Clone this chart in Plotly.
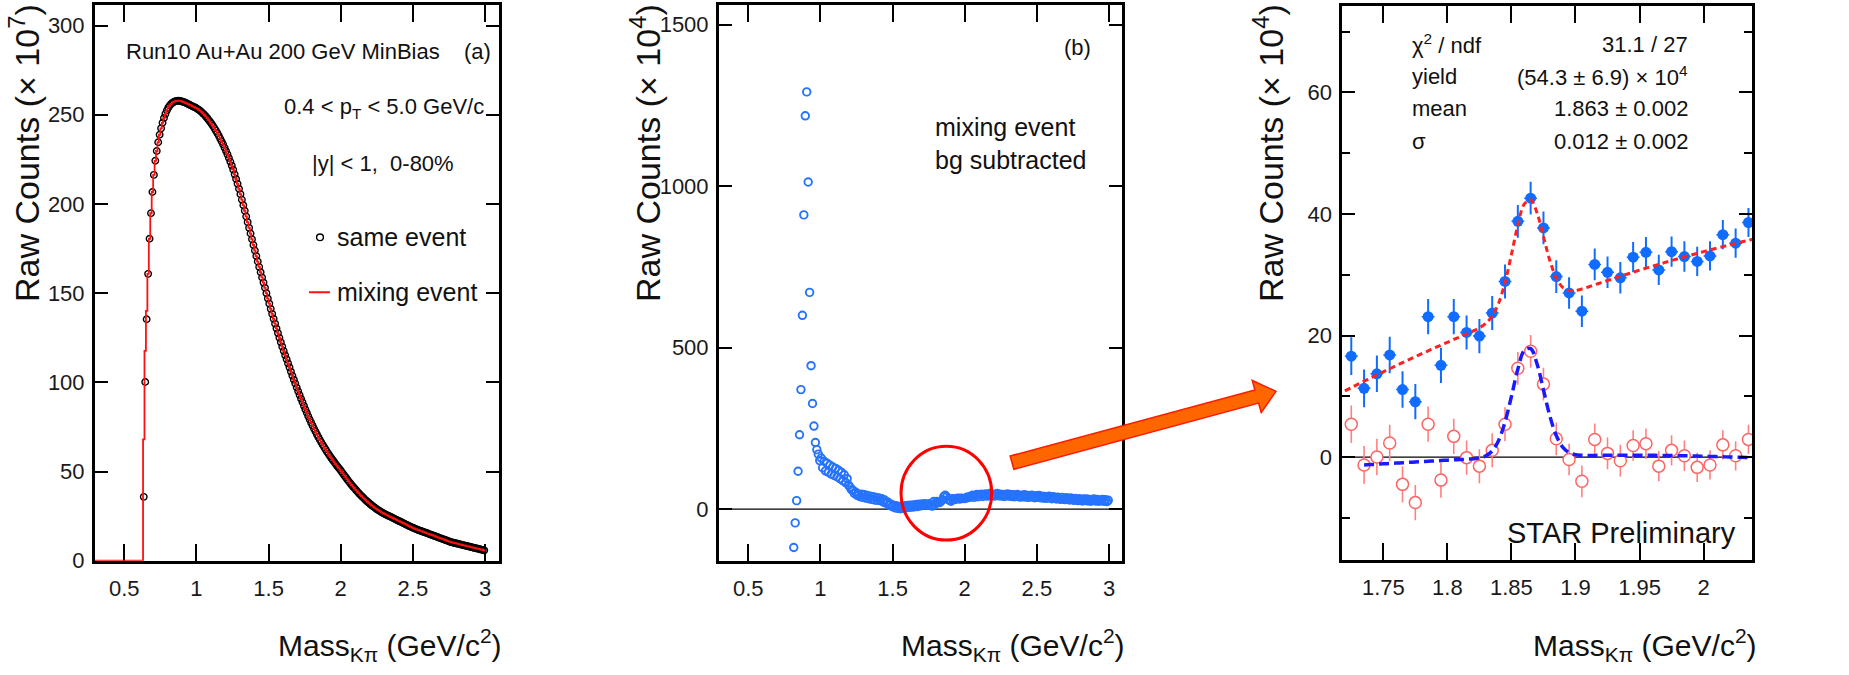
import numpy as np
import plotly.graph_objects as go

FIG_W, FIG_H = 1849, 675
FONT = "Liberation Sans, Arial, Helvetica, sans-serif"
INK = "#111111"

# ---------------- (a) same-event vs mixed-event K-pi invariant mass, x10^7 ----------------
A_FIRST_BIN = 0.635
BIN_W = 0.01
same_event = [
    35.8, 100.2, 135.4, 160.8, 180.5, 194.8, 206.7, 216.3, 224.2, 229.7,   # 0.635
    234.6, 238.8, 242.4, 245.5, 248.2, 250.5, 252.4, 254.0, 255.2, 256.1,  # 0.735
    256.8, 257.3, 257.6, 257.8, 257.9, 257.8, 257.6, 257.3, 257.0, 256.7,  # 0.835
    256.3, 255.9, 255.5, 255.1, 254.7, 254.3, 253.9, 253.4, 252.9, 252.3,  # 0.935
    251.6, 250.8, 250.0, 249.1, 248.1, 247.1, 246.0, 244.9, 243.7, 242.4,  # 1.035
    241.1, 239.7, 238.2, 236.6, 235.0, 233.3, 231.5, 229.7, 227.8, 225.8,  # 1.135
    223.7, 221.5, 219.2, 216.6, 214.0, 211.3, 208.5, 205.5, 202.4, 199.3,  # 1.235
    196.2, 193.0, 189.8, 186.6, 183.4, 180.2, 177.0, 173.9, 170.8, 167.7,  # 1.335
    164.7, 161.7, 158.8, 155.9, 153.0, 150.0, 147.0, 144.1, 141.2, 138.4,  # 1.435
    135.6, 132.9, 130.2, 127.6, 125.0, 122.5, 120.0, 117.6, 115.2, 112.9,  # 1.535
    110.6, 108.4, 106.0, 103.7, 101.5, 99.3, 97.1, 95.0, 92.9, 90.8,       # 1.635
    88.8, 86.8, 84.8, 82.9, 81.0, 79.2, 77.4, 75.7, 74.0, 72.4,            # 1.735
    70.8, 69.3, 67.8, 66.4, 65.0, 63.7, 62.4, 61.1, 59.9, 58.7,            # 1.835
    57.5, 56.4, 55.3, 54.2, 53.1, 52.1, 51.1, 50.0, 48.9, 47.8,            # 1.935
    46.7, 45.6, 44.5, 43.5, 42.5, 41.5, 40.6, 39.7, 38.8, 37.9,            # 2.035
    37.0, 36.2, 35.4, 34.6, 33.8, 33.1, 32.4, 31.7, 31.0, 30.4,            # 2.135
    29.8, 29.2, 28.6, 28.1, 27.6, 27.1, 26.6, 26.2, 25.8, 25.4,            # 2.235
    25.0, 24.6, 24.2, 23.8, 23.4, 23.0, 22.6, 22.2, 21.8, 21.4,            # 2.335
    21.0, 20.6, 20.2, 19.8, 19.4, 19.0, 18.6, 18.3, 17.9, 17.6,            # 2.435
    17.3, 17.0, 16.7, 16.4, 16.1, 15.8, 15.5, 15.2, 14.9, 14.6,            # 2.535
    14.3, 14.0, 13.7, 13.4, 13.1, 12.8, 12.5, 12.2, 11.9, 11.6,            # 2.635
    11.3, 11.0, 10.7, 10.4, 10.2, 10.0, 9.8, 9.6, 9.4, 9.2,                # 2.735
    9.0, 8.8, 8.6, 8.4, 8.2, 8.0, 7.8, 7.6, 7.4, 7.2,                      # 2.835
    7.0, 6.8, 6.6, 6.4, 6.2, 6.0, 5.8,                                     # 2.935
]
# mixed-event histogram: threshold bins differ, elsewhere it lies on the same-event points
mixing_threshold = [68.0, 117.6, 140.0]
mixing_event = mixing_threshold + same_event[len(mixing_threshold):]

# ---------------- (b) mixed-event background subtracted, x10^4 ----------------
B_FIRST_BIN = 0.815
sub_low = [
    -119, -43, 26, 117, 230, 370, 600, 911, 1218, 1292,   # 0.815
    1013, 671, 444, 327, 257, 206, 184, 170, 150, 158,    # 0.915
    128, 148, 118, 142, 114, 136, 108, 130, 104, 126,     # 1.015
    100, 120, 94, 114, 88, 106, 82, 94, 74, 68,           # 1.115
    60, 58, 48, 52, 42, 46, 38, 46, 36, 44,               # 1.215
    34, 42, 32, 40, 30, 38, 28, 36, 27, 34,               # 1.315
    26, 32, 22, 28, 18, 22, 12, 16, 8, 12,                # 1.415
    4, 10, 2, 8, 1, 7, 3, 10, 4, 11,                      # 1.515
    5, 12, 6, 13, 7, 14, 8, 15, 10, 16,                   # 1.615
    13,                                                   # 1.715
]
sub_high = [
    38, 43, 36, 42, 45, 38, 44, 46, 39, 44,   # 2.045
    47, 40, 45, 48, 41, 46, 40, 45, 48, 41,   # 2.145
    46, 40, 45, 39, 44, 47, 40, 45, 39, 44,   # 2.245
    38, 43, 45, 39, 37, 43, 38, 44, 37, 42,   # 2.345
    36, 41, 43, 37, 35, 41, 36, 42, 35, 40,   # 2.445
    34, 39, 33, 38, 40, 34, 32, 38, 33, 31,   # 2.545
    37, 32, 30, 36, 31, 29, 35, 30, 28, 34,   # 2.645
    31, 27, 33, 28, 26, 32, 27, 25, 31, 26,   # 2.745
    31, 25, 30, 24, 28, 31, 25, 30, 24, 28,   # 2.845
    25, 30, 24, 29, 23, 27,                   # 2.945
]

# ---------------- (c) D0 mass window, x10^4 ----------------
C_FIRST_BIN = 1.725
d0_mixbg_sub = [
    16.6, 11.3, 13.7, 16.8, 11.1, 9.1, 23.1, 15.1, 23.1, 20.5,
    19.9, 23.7, 28.9, 38.8, 42.6, 37.7, 29.7, 27.0, 24.0, 31.7,
    30.4, 29.5, 32.9, 33.7, 30.8, 33.8, 33.0, 32.2, 33.1, 36.6,
    35.2, 38.6,
]
d0_resid_sub = [
    5.4, -1.3, 0.0, 2.3, -4.5, -7.5, 5.4, -3.8, 3.4, -0.1,
    -1.5, 1.1, 5.4, 14.6, 17.4, 12.0, 3.0, -0.4, -4.0, 2.9,
    0.6, -0.6, 1.9, 2.2, -1.5, 1.1, 0.2, -1.7, -1.3, 2.0,
    0.2, 2.9,
]
d0_err = [
    3.1, 3.1, 3.0, 3.0, 3.0, 2.9, 2.9, 2.9, 2.9, 2.8,
    2.8, 2.8, 2.8, 2.7, 2.7, 2.7, 2.7, 2.6, 2.6, 2.6,
    2.6, 2.6, 2.5, 2.5, 2.5, 2.5, 2.5, 2.4, 2.4, 2.4,
    2.4, 2.4,
]
bg_subtracted = sub_low + d0_mixbg_sub + sub_high

# fit results (Gaussian + residual background)
FIT_CHI2, FIT_NDF = 31.1, 27
FIT_YIELD, FIT_YIELD_ERR = 54.3, 6.9
FIT_MEAN, FIT_MEAN_ERR = 1.863, 0.002
FIT_SIGMA, FIT_SIGMA_ERR = 0.012, 0.002
FIT_X0, FIT_STEP = 1.72, 0.005
# residual-background component of the fit to the mixed-event-subtracted spectrum
fit_bg_total = [
    10.90, 11.43, 11.96, 12.48, 13.00, 13.52, 14.03, 14.53, 15.04, 15.53,
    16.03, 16.51, 17.00, 17.47, 17.95, 18.42, 18.88, 19.35, 19.80, 20.25,
    20.70, 21.14, 21.58, 22.02, 22.44, 22.87, 23.29, 23.71, 24.12, 24.52,
    24.93, 25.32, 25.72, 26.11, 26.49, 26.87, 27.24, 27.62, 27.98, 28.34,
    28.70, 29.05, 29.40, 29.75, 30.08, 30.42, 30.75, 31.08, 31.40, 31.71,
    32.03, 32.33, 32.64, 32.94, 33.23, 33.52, 33.80, 34.09, 34.36, 34.63,
    34.90, 35.16, 35.42, 35.68, 35.92,
]
# leftover background after the residual-background subtraction (starts at 1.735)
FIT_RESID_START = 3
fit_bg_resid = [
    -1.30, -1.24, -1.18, -1.12, -1.06, -1.00, -0.94, -0.88, -0.82, -0.76,
    -0.70, -0.64, -0.58, -0.52, -0.47, -0.42, -0.37, -0.32, -0.27, -0.22,
    -0.18, -0.14, -0.10, -0.06, -0.02, 0.02, 0.05, 0.08, 0.11, 0.14,
    0.17, 0.19, 0.21, 0.23, 0.25, 0.26, 0.27, 0.28, 0.29, 0.30,
    0.30, 0.30, 0.30, 0.30, 0.29, 0.28, 0.27, 0.26, 0.24, 0.22,
    0.20, 0.18, 0.16, 0.13, 0.10, 0.07, 0.04, 0.01, -0.02, -0.05,
    -0.08, -0.11,
]


def centers(first, n):
    return np.round(first + BIN_W * np.arange(n), 4)


mass_a = centers(A_FIRST_BIN, len(same_event))
mass_b = centers(B_FIRST_BIN, len(bg_subtracted))
mass_c = centers(C_FIRST_BIN, len(d0_mixbg_sub))

fit_x = np.round(FIT_X0 + FIT_STEP * np.arange(len(fit_bg_total)), 4)
gauss_amp = FIT_YIELD * BIN_W / (FIT_SIGMA * np.sqrt(2 * np.pi))
gauss = gauss_amp * np.exp(-0.5 * ((fit_x - FIT_MEAN) / FIT_SIGMA) ** 2)
fit_total = gauss + np.array(fit_bg_total)
fit_x_resid = fit_x[FIT_RESID_START:]
fit_resid = gauss[FIT_RESID_START:] + np.array(fit_bg_resid)

# histogram outline (left bin edges) for the mixed-event distribution
A_X_MIN = 0.297
hist_x = [A_X_MIN] + list(mass_a - BIN_W / 2) + [mass_a[-1] + BIN_W / 2]
hist_y = [0.0] + mixing_event + [mixing_event[-1]]


# ---------------- helpers ----------------
def px(x):
    return x / FIG_W


def py(y):
    return 1 - y / FIG_H


def axis_style(**kw):
    base = dict(showline=True, linecolor="black", linewidth=3, mirror="ticks",
                ticks="inside", tickcolor="black", tickwidth=2,
                showgrid=False, zeroline=False,
                tickfont=dict(family=FONT, size=22, color="#1a1a1a"))
    base.update(kw)
    return base


fig = go.Figure()

# (a)
fig.add_trace(go.Scatter(
    x=mass_a, y=same_event, mode="markers", xaxis="x", yaxis="y",
    marker=dict(symbol="circle-open", size=6.5, color="black", line=dict(width=1.4, color="black")),
    name="same event"))
fig.add_trace(go.Scatter(
    x=hist_x, y=hist_y, mode="lines", line_shape="hv", xaxis="x", yaxis="y",
    line=dict(color="#ff1010", width=1.8), name="mixing event"))

# (b)
fig.add_trace(go.Scatter(
    x=mass_b, y=bg_subtracted, mode="markers", xaxis="x2", yaxis="y2",
    marker=dict(symbol="circle-open", size=7.5, color="#2673ff", line=dict(width=1.9, color="#2673ff")),
    name="mixing event bg subtracted"))

# (c)
fig.add_trace(go.Scatter(
    x=mass_c, y=d0_resid_sub, mode="markers", xaxis="x3", yaxis="y3",
    marker=dict(symbol="circle", size=12, color="white", line=dict(width=1.5, color="#ff6464")),
    error_y=dict(type="data", array=d0_err, color="#ff8080", thickness=1.6, width=0),
    name="residual bg subtracted"))
fig.add_trace(go.Scatter(
    x=mass_c, y=d0_mixbg_sub, mode="markers", xaxis="x3", yaxis="y3",
    marker=dict(symbol="circle", size=11, color="#0f6cff"),
    error_y=dict(type="data", array=d0_err, color="#0f6cff", thickness=2, width=0),
    error_x=dict(type="constant", value=BIN_W / 2, color="#0f6cff", thickness=1.5, width=0),
    name="mixed-event bg subtracted"))
fig.add_trace(go.Scatter(
    x=fit_x, y=fit_total, mode="lines", line_shape="spline", xaxis="x3", yaxis="y3",
    line=dict(color="#ff2020", width=3, dash="6px,4px"), name="fit"))
fig.add_trace(go.Scatter(
    x=fit_x_resid, y=fit_resid, mode="lines", line_shape="spline", xaxis="x3", yaxis="y3",
    line=dict(color="#1a1aff", width=3.5, dash="10px,5px"), name="fit, residual"))

# ---------------- axes ----------------
dom_a = [px(95), px(499)]
dom_b = [px(719), px(1121.7)]
dom_c = [px(1342.3), px(1752.3)]
dom_y = [py(571.7), py(5)]
dom_yc = [py(570.7), py(5.7)]

mass_ticks = [0.5, 1, 1.5, 2, 2.5, 3]
mass_ticktext = ["0.5", "1", "1.5", "2", "2.5", "3"]
c_ticks = [1.75, 1.8, 1.85, 1.9, 1.95, 2.0]
c_ticktext = ["1.75", "1.8", "1.85", "1.9", "1.95", "2"]

fig.update_layout(
    xaxis=axis_style(domain=dom_a, anchor="y", range=[A_X_MIN, 3.097], tickvals=mass_ticks,
                     ticktext=mass_ticktext, ticklen=17, ticklabelstandoff=6, layer="below traces"),
    yaxis=axis_style(domain=dom_y, anchor="x", range=[0, 311.6], tickvals=[0, 50, 100, 150, 200, 250, 300],
                     ticklen=13, ticklabelstandoff=3),
    xaxis2=axis_style(domain=dom_b, anchor="y2", range=[0.297, 3.088], tickvals=mass_ticks,
                      ticktext=mass_ticktext, ticklen=17, ticklabelstandoff=6),
    yaxis2=axis_style(domain=dom_y, anchor="x2", range=[-160, 1561.5], tickvals=[0, 500, 1000, 1500],
                      ticklen=13, ticklabelstandoff=3),
    xaxis3=axis_style(domain=dom_c, anchor="y3", range=[1.718, 2.038], tickvals=c_ticks,
                      ticktext=c_ticktext, ticklen=17, ticklabelstandoff=6),
    yaxis3=axis_style(domain=dom_yc, anchor="x3", range=[-16.9, 74.3], tickvals=[0, 20, 40, 60],
                      ticklen=13, ticklabelstandoff=3,
                      minor=dict(tickvals=[-10, 10, 30, 50, 70], ticks="inside", ticklen=8,
                                 tickwidth=2, tickcolor="black")),
    width=FIG_W, height=FIG_H,
    margin=dict(l=0, r=0, t=0, b=0, pad=0),
    paper_bgcolor="white", plot_bgcolor="white",
    showlegend=False,
    font=dict(family=FONT, color=INK),
)

# ---------------- text ----------------
ann = []


def text(x, y, s, size=22, xanchor="left", yanchor="middle", angle=0):
    ann.append(dict(x=px(x), y=py(y), xref="paper", yref="paper", text=s, showarrow=False,
                    xanchor=xanchor, yanchor=yanchor, textangle=angle,
                    font=dict(family=FONT, size=size, color=INK)))


y_title = "Raw Counts (× 10<sup>%d</sup>)"
x_title = "Mass<sub>Kπ</sub> (GeV/c<sup>2</sup>)"
for cx, p in [(25, 7), (646, 4), (1269, 4)]:
    text(cx, 2, y_title % p, size=34, xanchor="center", yanchor="top", angle=-90)
for rx in [504, 1127, 1759]:
    text(rx, 658, x_title, size=30, xanchor="right")

# panel (a)
text(124, 53, "Run10 Au+Au 200 GeV MinBias")
text(462, 53, "(a)")
text(486, 110, "0.4 &lt; p<sub>T</sub> &lt; 5.0 GeV/c", xanchor="right")
text(310, 167, "|y| &lt; 1,&nbsp; 0-80%")
text(335, 242, "same event", size=25)
text(335, 298, "mixing event", size=25)

# panel (b)
text(1062, 48, "(b)")
text(933, 130, "mixing event", size=25)
text(933, 163, "bg subtracted", size=25)

# panel (c) fit box
rows = [
    ("χ<sup>2</sup> / ndf", f"{FIT_CHI2:.1f} / {FIT_NDF}"),
    ("yield", f"({FIT_YIELD:.1f} ± {FIT_YIELD_ERR:.1f}) × 10<sup>4</sup>"),
    ("mean", f"{FIT_MEAN:.3f} ± {FIT_MEAN_ERR:.3f}"),
    ("σ", f"{FIT_SIGMA:.3f} ± {FIT_SIGMA_ERR:.3f}"),
]
for i, (lab, val) in enumerate(rows):
    yy = 45 + 33 * i
    text(1410, yy, lab)
    text(1690, yy, val, xanchor="right")
text(1505, 543, "STAR Preliminary", size=29)

# ---------------- shapes ----------------
shapes = []
# legend glyphs of panel (a)
shapes.append(dict(type="circle", xref="paper", yref="paper",
                   x0=px(320 - 3.4), x1=px(320 + 3.4), y0=py(242 + 3.4), y1=py(242 - 3.4),
                   line=dict(color="black", width=1.4)))
shapes.append(dict(type="line", xref="paper", yref="paper",
                   x0=px(309), x1=px(330), y0=py(298), y1=py(298),
                   line=dict(color="#ff1010", width=2)))
# zero lines
for xa, ya in [("x2", "y2"), ("x3", "y3")]:
    shapes.append(dict(type="line", xref=f"{xa} domain", yref=ya, x0=0, x1=1, y0=0, y1=0,
                       line=dict(color="black", width=1.3), layer="below"))
# highlight ring around the D0 region in (b)
shapes.append(dict(type="circle", xref="paper", yref="paper",
                   x0=px(901), x1=px(991.7), y0=py(550.7), y1=py(455),
                   line=dict(color="#ff0000", width=3)))
# block arrow from (b) to (c)
tail = np.array([1012.0, 471.7])
tip = np.array([1276.0, 399.0])
u = (tip - tail) / np.linalg.norm(tip - tail)
n = np.array([-u[1], u[0]])
half_body, half_head, head_len = 7.0, 17.0, 20.0
base = tip - head_len * u
pts = [tail - half_body * n, base - half_body * n, base - half_head * n, tip,
       base + half_head * n, base + half_body * n, tail + half_body * n]
path = "M " + " L ".join(f"{px(p[0]):.5f},{py(p[1]):.5f}" for p in pts) + " Z"
shapes.append(dict(type="path", xref="paper", yref="paper", path=path,
                   fillcolor="#ff6600", line=dict(color="#ff1a00", width=1.5)))

fig.update_layout(annotations=ann, shapes=shapes)
fig.write_html("out.html")
